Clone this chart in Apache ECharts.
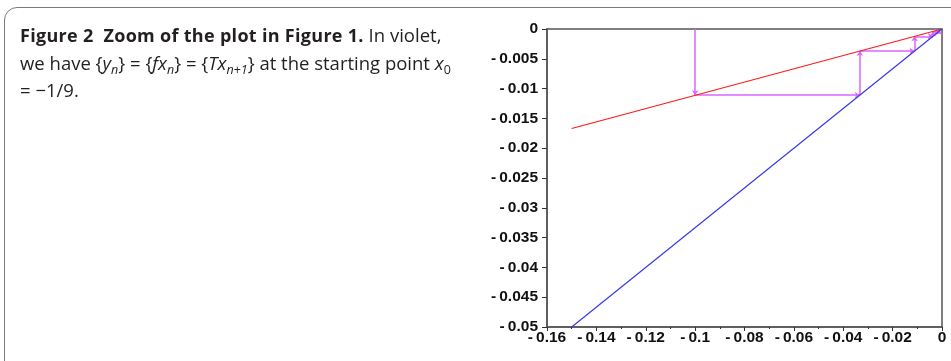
<!DOCTYPE html>
<html>
<head>
<meta charset="utf-8">
<script src="https://cdn.jsdelivr.net/npm/echarts@6/dist/echarts.min.js"></script>
<style>
  html, body { margin: 0; padding: 0; background: #fff; width: 951px; height: 361px; overflow: hidden; }
  #card { position: absolute; left: 4px; top: 7px; width: 1000px; height: 400px;
          border: 1.5px solid #7a7a7a; border-radius: 13px; box-sizing: border-box; }
  #caption { position: absolute; left: 20px; top: 21px; width: 470px; white-space: nowrap;
             font-family: "Open Sans", sans-serif; font-size: 18.5px; line-height: 27px; color: #231f20; letter-spacing: 0px; }
  #caption b { font-weight: 700; font-size: 18px; letter-spacing: 0.3px; }
  #caption sub { font-size: 12.5px; vertical-align: -4px; line-height: 0; }
  #chart { position: absolute; left: 0; top: 0; width: 951px; height: 361px; }
</style>
</head>
<body>
<div id="card"></div>
<div id="chart"></div>
<div id="caption"><b>Figure 2&nbsp; Zoom of the plot in Figure 1.</b> In violet,<br>we have {<i>y<sub>n</sub></i>} = {<i>fx<sub>n</sub></i>} = {<i>Tx<sub>n+1</sub></i>} at the starting point <i>x</i><sub>0</sub><br>= &minus;1/9.</div>
<script>
// Data
var xTicks = [-0.16, -0.14, -0.12, -0.1, -0.08, -0.06, -0.04, -0.02, 0];
var yTicks = [0, -0.005, -0.01, -0.015, -0.02, -0.025, -0.03, -0.035, -0.04, -0.045, -0.05];
var redX = [-0.15, 0];
var redY = [-0.0167, 0];
var blueX = [-0.15, 0];
var blueY = [-0.05, 0];
var violetX = [-0.1, -0.1, -0.0333, -0.0333, -0.0111, -0.0111, -0.0037, -0.0037, -0.0012, -0.0012];
var violetY = [0, -0.0111, -0.0111, -0.0037, -0.0037, -0.00123, -0.00123, -0.00041, -0.00041, -0.00014];

function pairs(xs, ys) { return xs.map(function (x, i) { return [x, ys[i]]; }); }
var violetSegs = [];
for (var i = 0; i < violetX.length - 1; i++) {
  violetSegs.push({ coords: [[violetX[i], violetY[i]], [violetX[i + 1], violetY[i + 1]]] });
}
function fmt(v) {
  var s = String(parseFloat(Number(v).toFixed(4)));
  return s.replace('-', '-\u2009');
}
var labelStyle = { formatter: fmt, color: '#111', fontFamily: 'Liberation Sans', fontWeight: 'bold', fontSize: 15.5 };

var chart = echarts.init(document.getElementById('chart'), null, { renderer: 'canvas' });
chart.setOption({
  animation: false,
  backgroundColor: 'transparent',
  grid: { left: 547, top: 29, right: 9, bottom: 34, show: true, borderColor: '#555', borderWidth: 1.5, backgroundColor: 'transparent' },
  xAxis: {
    type: 'value', min: xTicks[0], max: xTicks[xTicks.length - 1], interval: 0.02,
    axisLine: { show: true, onZero: false, lineStyle: { color: '#555', width: 1.5 } },
    axisTick: { show: true, length: 4, lineStyle: { color: '#333' } },
    minorTick: { show: true, splitNumber: 2, length: 2, lineStyle: { color: '#333' } },
    splitLine: { show: false },
    axisLabel: Object.assign({ margin: 3 }, labelStyle)
  },
  yAxis: {
    type: 'value', min: yTicks[yTicks.length - 1], max: yTicks[0], interval: 0.005,
    axisLine: { show: true, onZero: false, lineStyle: { color: '#555', width: 1.5 } },
    axisTick: { show: true, length: 5, lineStyle: { color: '#333' } },
    splitLine: { show: false },
    axisLabel: Object.assign({ margin: 9 }, labelStyle)
  },
  series: [
    { type: 'line', data: pairs(redX, redY), showSymbol: false, lineStyle: { color: '#ff1a1a', width: 1.2 } },
    { type: 'line', data: pairs(blueX, blueY), showSymbol: false, lineStyle: { color: '#3a3ae6', width: 1.2 } },
    { type: 'lines', coordinateSystem: 'cartesian2d', data: violetSegs,
      symbol: ['none', 'arrow'], symbolSize: 5,
      lineStyle: { color: '#d966ff', width: 1.5, opacity: 1 } }
  ]
});
</script>
</body>
</html>
